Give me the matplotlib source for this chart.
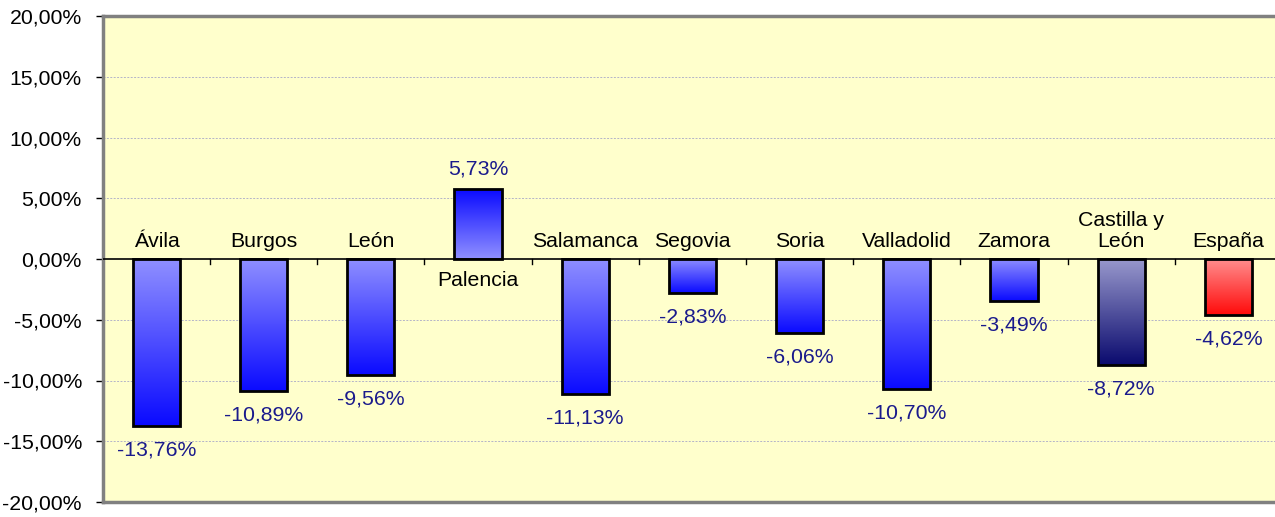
import numpy as np
import matplotlib
matplotlib.use("Agg")
import matplotlib.pyplot as plt
from matplotlib.colors import LinearSegmentedColormap
from matplotlib.ticker import FuncFormatter

plt.rcParams['font.family'] = ['Liberation Sans', 'DejaVu Sans']

categories = ["Ávila", "Burgos", "León", "Palencia", "Salamanca", "Segovia",
              "Soria", "Valladolid", "Zamora", "Castilla y\nLeón", "España"]
values = [-13.76, -10.89, -9.56, 5.73, -11.13, -2.83, -6.06, -10.70, -3.49, -8.72, -4.62]
value_labels = ["-13,76%", "-10,89%", "-9,56%", "5,73%", "-11,13%", "-2,83%",
                "-6,06%", "-10,70%", "-3,49%", "-8,72%", "-4,62%"]
yticks = [-20, -15, -10, -5, 0, 5, 10, 15, 20]

# gradient pairs (colour at zero line, colour at bar end)
grad_blue = ("#9090FF", "#0A0AFF")
grad_navy = ("#9898CC", "#0A0A6E")
grad_red = ("#FF9090", "#FF0A0A")
bar_grads = [grad_blue] * 9 + [grad_navy, grad_red]

W, H = 1275, 517
fig = plt.figure(figsize=(W / 100, H / 100), dpi=100)
left, right, top, bottom = 102.8, 1282, 16, 502
ax = fig.add_axes([left / W, 1 - bottom / H, (right - left) / W, (bottom - top) / H])
ax.set_facecolor("#FFFFCC")

n = len(categories)
ax.set_xlim(-0.5, n - 0.5)
ax.set_ylim(-20, 20)

FS_CAT = 15.3
FS_VAL = 15.3
bw = 0.44
for i, (v, g) in enumerate(zip(values, bar_grads)):
    cmap = LinearSegmentedColormap.from_list("g%d" % i, list(g))
    grad = np.linspace(0, 1, 256).reshape(-1, 1)
    ax.imshow(grad, cmap=cmap, aspect="auto", origin="lower",
              extent=(i - bw / 2, i + bw / 2, 0, v), zorder=2, interpolation="bilinear")
    ax.bar(i, v, width=bw, facecolor="none", edgecolor="black", linewidth=2, zorder=3)
    if v < 0:
        ax.annotate(value_labels[i], (i, v), xytext=(0, -10.5), textcoords="offset points",
                    ha="center", va="top", fontsize=FS_VAL, color="#1A1A8C", zorder=4)
        ax.annotate(categories[i], (i, 0), xytext=(0, 6), textcoords="offset points",
                    ha="center", va="bottom", fontsize=FS_CAT, color="black", zorder=4,
                    linespacing=1.12)
    else:
        ax.annotate(value_labels[i], (i, v), xytext=(0, 8), textcoords="offset points",
                    ha="center", va="bottom", fontsize=FS_VAL, color="#1A1A8C", zorder=4)
        ax.annotate(categories[i], (i, 0), xytext=(0, -9), textcoords="offset points",
                    ha="center", va="top", fontsize=FS_CAT, color="black", zorder=4)

# grid
for t in yticks:
    if t != 0 and abs(t) != 20:
        ax.axhline(t, color="#B4B4C8", linestyle=(0, (2, 1.5)), linewidth=0.7, zorder=1)
ax.axhline(0, color="black", linewidth=1.2, zorder=3)
for b in np.arange(0.5, n - 0.5, 1.0):
    ax.plot([b, b], [0, -0.45], color="black", linewidth=1, zorder=3)

ax.set_yticks(yticks)
ax.yaxis.set_major_formatter(FuncFormatter(lambda y, p: ("%.2f%%" % y).replace(".", ",")))
ax.tick_params(axis="y", labelsize=15.3, length=5, width=1, colors="black", pad=10)
ax.set_xticks([])
for s in ax.spines.values():
    s.set_color("#808080")
    s.set_linewidth(2.5)

fig.savefig("out.png", dpi=100)
